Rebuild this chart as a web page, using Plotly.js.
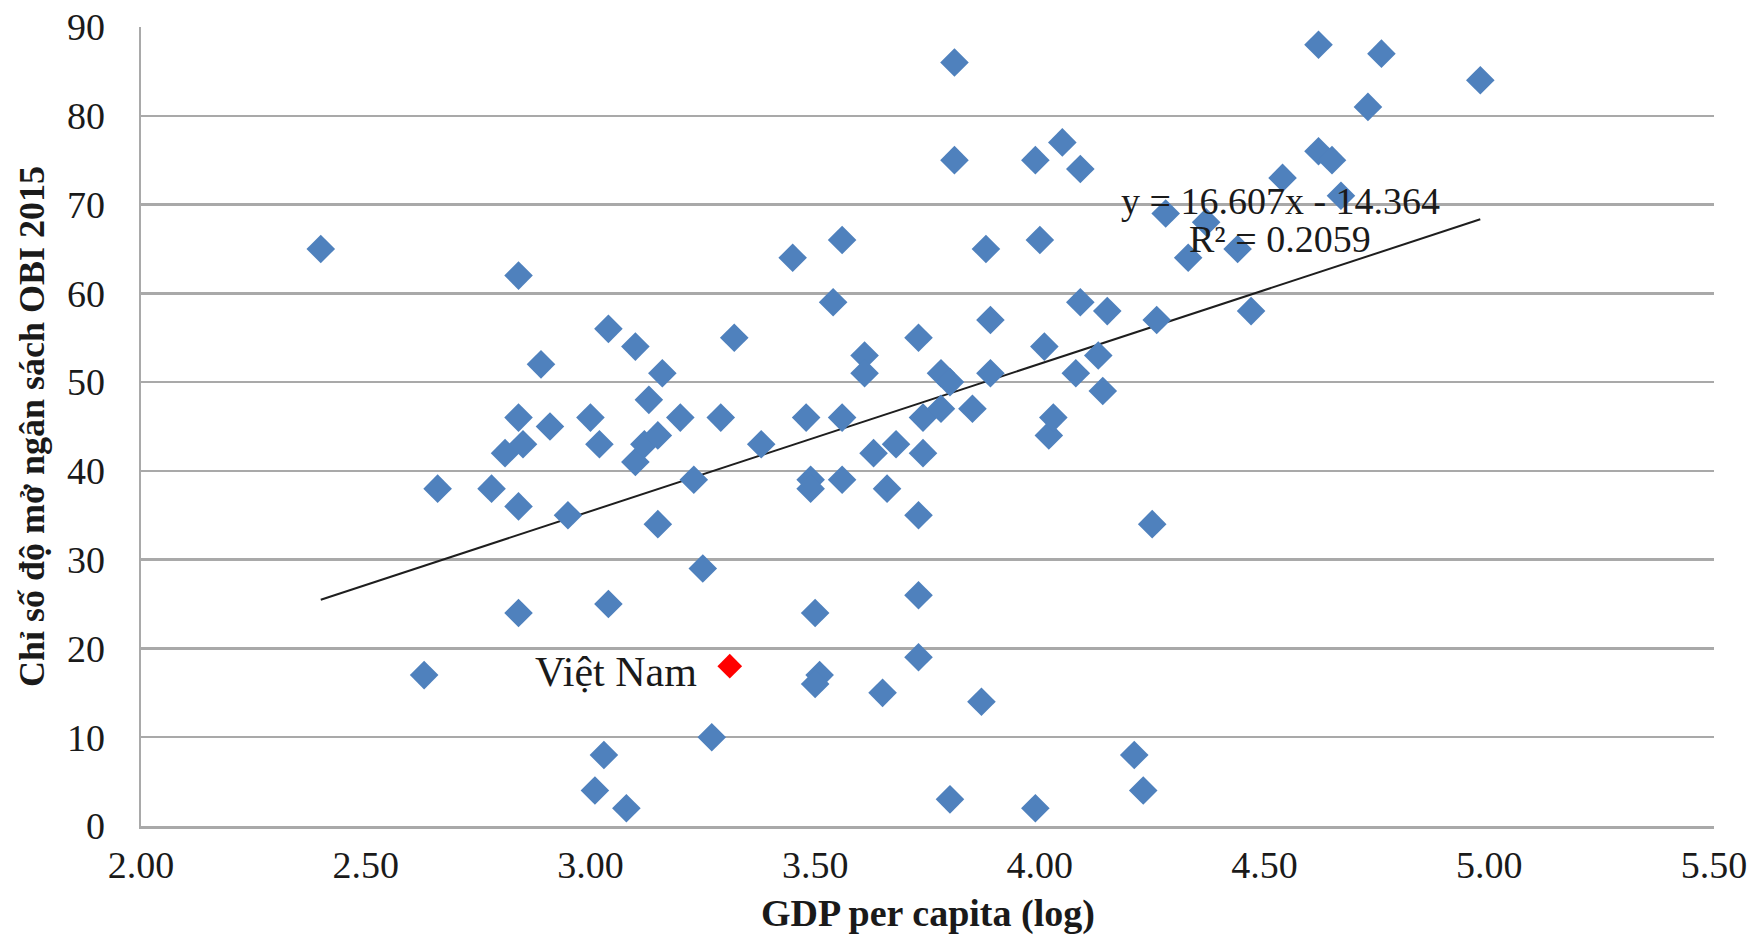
<!DOCTYPE html>
<html>
<head>
<meta charset="utf-8">
<script src="https://cdn.plot.ly/plotly-3.0.1.min.js"></script>
<style>html,body{margin:0;padding:0;background:#fff;}#chart{width:1748px;height:937px;}</style>
</head>
<body>
<div id="chart"></div>
<script>
// GDP per capita (log) for each country (excluding Vietnam)
const gdpLog = [2.40, 2.63, 2.66, 2.78, 2.81, 2.84, 2.84, 2.85, 2.84, 2.84,
  2.89, 2.91, 2.95, 3.00, 3.02, 3.01, 3.04, 3.03, 3.04, 3.08,
  3.10, 3.10, 3.12, 3.13, 3.15, 3.15, 3.16, 3.20, 3.23, 3.25,
  3.27, 3.29, 3.32, 3.38, 3.45, 3.48, 3.49, 3.49, 3.50, 3.51,
  3.50, 3.54, 3.56, 3.56, 3.56, 3.61, 3.61, 3.63, 3.66, 3.65,
  3.68, 3.73, 3.73, 3.73, 3.73, 3.74, 3.74, 3.81, 3.81, 3.78,
  3.80, 3.78, 3.80, 3.85, 3.87, 3.88, 3.89, 3.89, 3.99, 4.00,
  3.99, 4.01, 4.02, 4.03, 4.05, 4.08, 4.09, 4.09, 4.13, 4.14,
  4.15, 4.21, 4.23, 4.25, 4.26, 4.28, 4.33, 4.37, 4.44, 4.47,
  4.54, 4.62, 4.62, 4.65, 4.67, 4.73, 4.76, 4.98];
// Open Budget Index 2015 score for each country (same order)
const obiScore = [65, 17, 38, 38, 42, 62, 46, 43, 36, 24,
  52, 45, 35, 46, 43, 4, 56, 8, 25, 2,
  54, 41, 43, 48, 34, 44, 51, 46, 39, 29,
  10, 46, 55, 43, 64, 46, 39, 38, 24, 17,
  16, 59, 66, 46, 39, 53, 51, 42, 38, 15,
  43, 55, 26, 19, 35, 42, 46, 86, 75, 51,
  50, 47, 3, 47, 14, 65, 57, 51, 75, 66,
  2, 54, 44, 46, 77, 51, 74, 59, 53, 49,
  58, 8, 4, 34, 57, 69, 64, 68, 65, 58,
  73, 88, 76, 75, 71, 81, 87, 84];
// Vietnam
const vnName = ["Việt Nam"];
const vnGdpLog = [3.31];
const vnObi = [18];
// Linear trend reported on the chart
const trendSlope = 16.607;
const trendIntercept = -14.364;
const trendR2 = 0.2059;
const xTitle = 'GDP per capita (log)';
const yTitle = 'Chỉ số độ mở ngân sách OBI 2015';
const xTickVals = [2.0, 2.5, 3.0, 3.5, 4.0, 4.5, 5.0, 5.5];
const yTickVals = [0, 10, 20, 30, 40, 50, 60, 70, 80, 90];

const allX = gdpLog.concat(vnGdpLog);
const xMin = Math.min.apply(null, allX);
const xMax = Math.max.apply(null, allX);
const trendX = [xMin, xMax];
const trendY = trendX.map(v => trendSlope * v + trendIntercept);

const serif = "'Liberation Serif', 'Times New Roman', serif";
const textColor = '#1a1a1a';
const gridCol = '#a9a9a9';

const data = [
  {
    type: 'scatter', mode: 'lines', x: trendX, y: trendY,
    line: {color: '#1e1e1e', width: 2}, hoverinfo: 'skip', showlegend: false
  },
  {
    type: 'scatter', mode: 'markers', x: gdpLog, y: obiScore,
    marker: {symbol: 'diamond', size: 22, color: '#4f81bd', line: {width: 0}},
    showlegend: false
  },
  {
    type: 'scatter', mode: 'markers', x: vnGdpLog, y: vnObi, text: vnName,
    marker: {symbol: 'diamond', size: 19, color: '#ff0000', line: {width: 0}},
    showlegend: false
  }
];

const layout = {
  width: 1748, height: 937,
  margin: {l: 141, r: 34, t: 27, b: 111},
  paper_bgcolor: '#ffffff', plot_bgcolor: '#ffffff',
  showlegend: false,
  font: {family: serif, size: 38, color: textColor},
  xaxis: {
    range: [2.0, 5.5], tickvals: xTickVals, tickformat: '.2f',
    showgrid: false, zeroline: false, showline: true,
    linecolor: gridCol, linewidth: 2.5, ticks: '',
    ticklabelstandoff: 4,
    tickfont: {family: serif, size: 38, color: textColor}
  },
  yaxis: {
    range: [0, 90], tickvals: yTickVals,
    showgrid: true, gridcolor: gridCol, gridwidth: 2.5,
    zeroline: false, showline: true, linecolor: gridCol, linewidth: 2.5,
    ticks: '', ticklabelstandoff: 26,
    tickfont: {family: serif, size: 38, color: textColor},
    title: {text: yTitle, standoff: 12,
      font: {family: serif, size: 36, color: textColor, weight: 'bold'}}
  },
  annotations: [
    {x: 0.5, y: -0.109, xref: 'paper', yref: 'paper', showarrow: false,
     xanchor: 'center', yanchor: 'middle', text: xTitle,
     font: {family: serif, size: 38, color: textColor, weight: 'bold'}},
    {x: 4.535, y: 70.4, xref: 'x', yref: 'y', showarrow: false,
     text: 'y = ' + trendSlope.toFixed(3) + 'x - ' + Math.abs(trendIntercept).toFixed(3),
     font: {family: serif, size: 38, color: textColor}},
    {x: 4.535, y: 66.1, xref: 'x', yref: 'y', showarrow: false,
     text: 'R² = ' + trendR2.toFixed(4),
     font: {family: serif, size: 38, color: textColor}},
    {x: vnGdpLog[0], y: vnObi[0], xref: 'x', yref: 'y', showarrow: false,
     xanchor: 'right', xshift: -31, yshift: -6,
     text: vnName[0], font: {family: serif, size: 42, color: textColor}}
  ]
};

Plotly.newPlot('chart', data, layout, {displayModeBar: false, staticPlot: true});
</script>
</body>
</html>
